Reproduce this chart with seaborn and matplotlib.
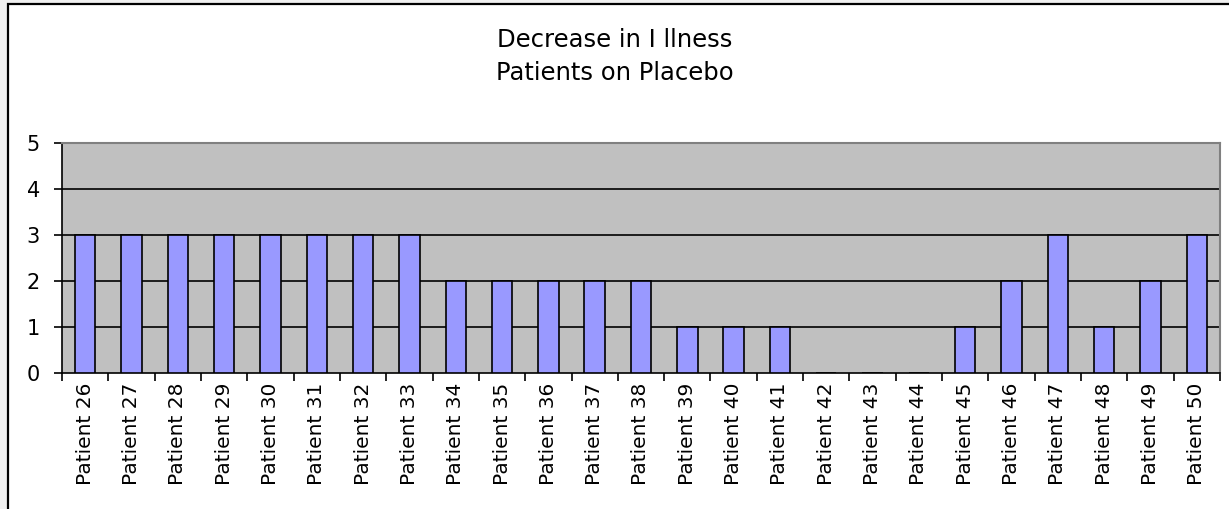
import matplotlib

matplotlib.use("Agg")
import matplotlib.pyplot as plt
import matplotlib.patches as mpatches
import numpy as np
import pandas as pd
import seaborn as sns

patients = [f"Patient {n}" for n in range(26, 51)]
decrease = [3, 3, 3, 3, 3, 3, 3, 3, 2, 2, 2, 2, 2, 1, 1, 1, 0, 0, 0, 1, 2, 3, 1, 2, 3]
y_ticks = [0, 1, 2, 3, 4, 5]
title_lines = ["Decrease in I llness", "Patients on Placebo"]

W, H = 1229, 509


def main() -> None:
    sns.set_style("white")
    plt.rcParams["font.family"] = ["DejaVu Sans"]
    plt.rcParams["text.color"] = "black"
    plt.rcParams["xtick.color"] = "black"
    plt.rcParams["ytick.color"] = "black"

    df = pd.DataFrame({"patient": patients, "decrease": decrease})

    fig = plt.figure(figsize=(W / 100, H / 100), dpi=100, facecolor="#f0f0f0")

    # white chart frame with black border (runs off right/bottom edge)
    frame = mpatches.Rectangle(
        (8 / W, -0.05), 1.2, 1 - 4 / H + 0.05,
        transform=fig.transFigure, facecolor="white", edgecolor="black",
        linewidth=1.6, zorder=-5,
    )
    fig.patches.append(frame)

    ax = fig.add_axes([62 / W, 1 - 373 / H, (1220 - 62) / W, (373 - 143) / H])
    ax.set_facecolor("#c0c0c0")

    sns.barplot(
        data=df, x="patient", y="decrease", color="#9999ff",
        edgecolor="black", linewidth=1.2, width=0.44, saturation=1, ax=ax,
        zorder=3,
    )

    ax.set_ylim(0, 5)
    ax.set_xlim(-0.5, len(patients) - 0.5)
    ax.set_yticks(y_ticks)
    ax.set_yticklabels([str(t) for t in y_ticks], fontsize=15)
    for t in y_ticks[1:-1]:
        ax.axhline(t, color="black", linewidth=1.2, zorder=1)

    # major ticks between categories, labels on minor ticks at centres
    ax.set_xticks(np.arange(-0.5, len(patients), 1.0))
    ax.set_xticklabels([])
    ax.set_xticks(np.arange(len(patients)), minor=True)
    ax.set_xticklabels(patients, minor=True, rotation=90, fontsize=14.5)
    ax.tick_params(axis="x", which="major", direction="out", length=6, width=1.2,
                   color="black", bottom=True)
    ax.tick_params(axis="x", which="minor", length=0, pad=7)
    ax.tick_params(axis="y", direction="out", length=6, width=1.2, color="black",
                   left=True, pad=10)

    ax.set_xlabel("")
    ax.set_ylabel("")
    for side in ("left", "bottom"):
        ax.spines[side].set_color("black")
        ax.spines[side].set_linewidth(1.2)
    for side in ("top", "right"):
        ax.spines[side].set_color("#808080")
        ax.spines[side].set_linewidth(1.5)

    fig.text(0.5, 1 - 40 / H, title_lines[0], ha="center", va="center", fontsize=17.5)
    fig.text(0.5, 1 - 73 / H, title_lines[1], ha="center", va="center", fontsize=17.5)

    fig.savefig("out.png", dpi=100, facecolor=fig.get_facecolor())
    plt.close(fig)


if __name__ == "__main__":
    main()
